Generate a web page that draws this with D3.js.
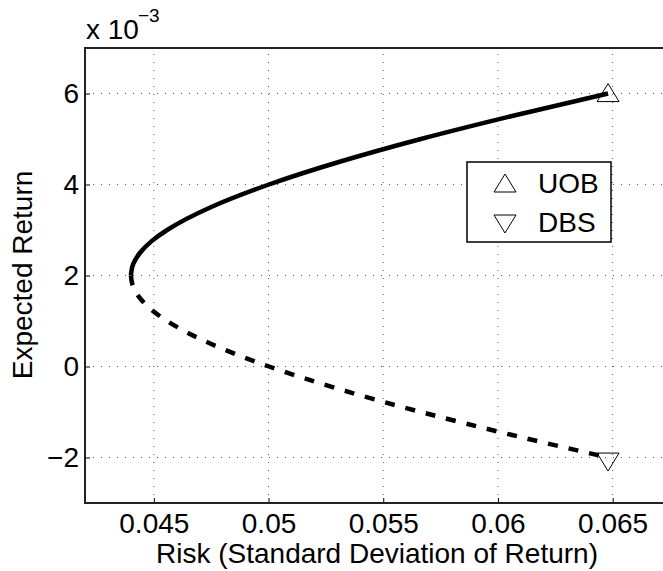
<!DOCTYPE html>
<html>
<head>
<meta charset="utf-8">
<script src="https://cdn.jsdelivr.net/npm/d3@7"></script>
<style>
  body { margin: 0; background: #fff; }
  text { font-family: "Liberation Sans", Arial, Helvetica, sans-serif; fill: #000; }
</style>
</head>
<body>
<script>
// Efficient frontier of a two-asset portfolio (UOB / DBS)
// upper branch (solid) and lower branch (dashed)
const efficientRisk = [0.04400, 0.04410, 0.04440, 0.04489, 0.04558, 0.04748, 0.05002, 0.05310, 0.05664, 0.06057, 0.06480];
const efficientReturn = [0.0020, 0.00225, 0.0025, 0.00275, 0.0030, 0.0035, 0.0040, 0.0045, 0.0050, 0.0055, 0.0060];
const inefficientRisk = [0.04400, 0.04410, 0.04440, 0.04489, 0.04558, 0.04748, 0.05002, 0.05310, 0.05664, 0.06057, 0.06480];
const inefficientReturn = [0.0020, 0.00175, 0.0015, 0.00125, 0.0010, 0.0005, 0.0000, -0.0005, -0.0010, -0.0015, -0.0020];

// the two stocks
const assetNames = ["UOB", "DBS"];
const assetRisk = [0.0648, 0.0648];
const assetReturn = [0.00602, -0.0021];

// ticks
const xTicks = [0.045, 0.05, 0.055, 0.06, 0.065];
const xTickLabels = ["0.045", "0.05", "0.055", "0.06", "0.065"];
const yTicks = [-0.002, 0, 0.002, 0.004, 0.006];
const yTickLabels = ["\u22122", "0", "2", "4", "6"];

const width = 663, height = 571;
const plot = { left: 85, top: 48, right: 670, bottom: 503 };
const fontSize = "28px";

const svg = d3.select("body").append("svg")
  .attr("width", width)
  .attr("height", height);

const x = d3.scaleLinear().domain([0.042, 0.0675]).range([plot.left, plot.right]);
const y = d3.scaleLinear().domain([-0.003, 0.007]).range([plot.bottom, plot.top]);

// grid (dotted)
const grid = svg.append("g").attr("class", "grid")
  .attr("stroke", "#555").attr("stroke-width", 1).attr("stroke-dasharray", "1,7");
grid.selectAll(".vgrid").data(xTicks).enter().append("line")
  .attr("x1", d => x(d)).attr("x2", d => x(d))
  .attr("y1", plot.bottom).attr("y2", plot.top);
grid.selectAll(".hgrid").data(yTicks).enter().append("line")
  .attr("x1", plot.left).attr("x2", plot.right)
  .attr("y1", d => y(d)).attr("y2", d => y(d));

// axes (ticks pointing inward, MATLAB style)
const xAxis = d3.axisBottom(x).tickValues(xTicks).tickSizeInner(-5).tickSizeOuter(0)
  .tickFormat((d, i) => xTickLabels[i]).tickPadding(10);
const yAxis = d3.axisLeft(y).tickValues(yTicks).tickSizeInner(-5).tickSizeOuter(0)
  .tickFormat((d, i) => yTickLabels[i]).tickPadding(6);

const xAxisG = svg.append("g")
  .attr("transform", `translate(0,${plot.bottom})`)
  .call(xAxis);
const yAxisG = svg.append("g")
  .attr("transform", `translate(${plot.left},0)`)
  .call(yAxis);

[xAxisG, yAxisG].forEach(g => {
  g.attr("font-family", null).attr("font-size", null);
  g.select(".domain").remove();
  g.selectAll(".tick line").attr("stroke", "#000").attr("stroke-width", 1);
  g.selectAll(".tick text").style("font-size", fontSize);
});
xAxisG.selectAll(".tick text").attr("dy", "0.71em");

// box
svg.append("rect")
  .attr("x", plot.left).attr("y", plot.top)
  .attr("width", plot.right - plot.left).attr("height", plot.bottom - plot.top)
  .attr("fill", "none").attr("stroke", "#222").attr("stroke-width", 2);

// frontier
const line = d3.line()
  .x(d => x(d[0]))
  .y(d => y(d[1]))
  .curve(d3.curveMonotoneY);

svg.append("path")
  .datum(d3.zip(efficientRisk, efficientReturn))
  .attr("d", line)
  .attr("fill", "none").attr("stroke", "#000").attr("stroke-width", 4.5);

svg.append("path")
  .datum(d3.zip(inefficientRisk, inefficientReturn))
  .attr("d", line)
  .attr("fill", "none").attr("stroke", "#000").attr("stroke-width", 4.5)
  .attr("stroke-dasharray", "10,11");

// triangle markers
const triUp = "M0,-9L11,9L-11,9Z";
const triDown = "M0,9L11,-9L-11,-9Z";
const markerPath = [triUp, triDown];

svg.selectAll(".asset").data(assetNames).enter().append("path")
  .attr("class", "asset")
  .attr("transform", (d, i) => `translate(${x(assetRisk[i])},${y(assetReturn[i])})`)
  .attr("d", (d, i) => markerPath[i])
  .attr("fill", "none").attr("stroke", "#000").attr("stroke-width", 1);

// legend
const legend = svg.append("g").attr("transform", "translate(467,162)");
legend.append("rect")
  .attr("width", 144).attr("height", 80)
  .attr("fill", "#fff").attr("stroke", "#000").attr("stroke-width", 1.5);
legend.selectAll(".lm").data(assetNames).enter().append("path")
  .attr("transform", (d, i) => `translate(38,${21 + i * 41})`)
  .attr("d", (d, i) => markerPath[i])
  .attr("fill", "none").attr("stroke", "#000").attr("stroke-width", 1);
legend.selectAll(".lt").data(assetNames).enter().append("text")
  .attr("x", 71).attr("y", (d, i) => 31 + i * 39)
  .style("font-size", fontSize)
  .text(d => d);

// axis titles
svg.append("text")
  .attr("x", 377).attr("y", 563)
  .attr("text-anchor", "middle")
  .style("font-size", fontSize)
  .text("Risk (Standard Deviation of Return)");

svg.append("text")
  .attr("transform", "translate(32,275) rotate(-90)")
  .attr("text-anchor", "middle")
  .style("font-size", fontSize)
  .text("Expected Return");

// exponent
svg.append("text")
  .attr("x", 86).attr("y", 39)
  .style("font-size", fontSize)
  .text("x 10");
svg.append("text")
  .attr("x", 138).attr("y", 22)
  .style("font-size", "19px")
  .text("\u22123");
</script>
</body>
</html>
